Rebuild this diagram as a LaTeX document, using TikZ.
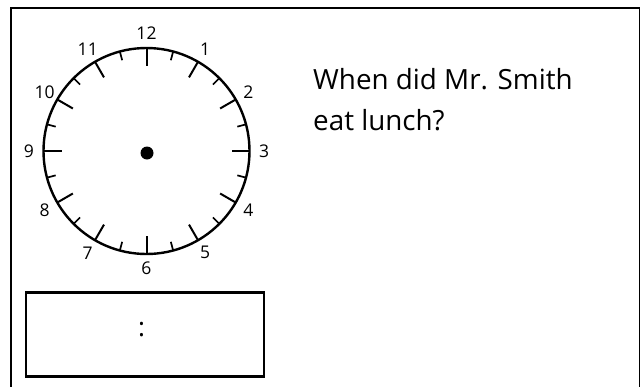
\documentclass[tikz,border=0pt]{standalone}
\usepackage{fontspec}
\setmainfont{Open Sans}
\usetikzlibrary{calc}
\begin{document}
\begin{tikzpicture}[x=1pt,y=-1pt,
  frame/.style={line width=2pt,draw=black},
  rim/.style={line width=2.4pt,draw=black},
  hourtick/.style={line width=2pt},
  halftick/.style={line width=1.7pt},
  numlabel/.style={font=\fontsize{17.5}{17.5}\selectfont,inner sep=0pt},
  question/.style={font=\fontsize{27.8}{33}\selectfont,anchor=base west,inner sep=0pt},
  answerbox/.style={line width=2.4pt,draw=black,minimum width=238pt,minimum height=84pt,inner sep=0pt}]
\useasboundingbox (0,0) rectangle (640,386);
\begin{scope}
\clip (0,0) rectangle (640,386);
\draw[frame] (11,7.5) rectangle (639.5,400);
\end{scope}
\coordinate (c) at (146.5,151);
\draw[rim] (c) circle (103pt);
\foreach \i in {0,...,23}{
  \pgfmathsetmacro{\ang}{90-15*\i}
  \ifodd\i
    \draw[halftick] ($(c)+(\ang:103pt)$) -- ($(c)+(\ang:94pt)$);
  \else
    \draw[hourtick] ($(c)+(\ang:103pt)$) -- ($(c)+(\ang:85pt)$);
  \fi
}
\foreach \h in {1,...,12}{
  \pgfmathsetmacro{\ang}{90-30*\h}
  \node[numlabel] (n\h) at ($(c)+(\ang:117.5pt)$) {\h};
}
\fill (147,153) circle (6.5pt);
\node[question] (q1) at (313,89.3) {When did Mr. Smith};
\node[question] (q2) at (313,130) {eat lunch?};
\node[answerbox] (box) at (145,334.5) {};
\node[font=\fontsize{26}{26}\selectfont,inner sep=0pt] (colon) at (141.7,329.3) {:};
\end{tikzpicture}
\end{document}
